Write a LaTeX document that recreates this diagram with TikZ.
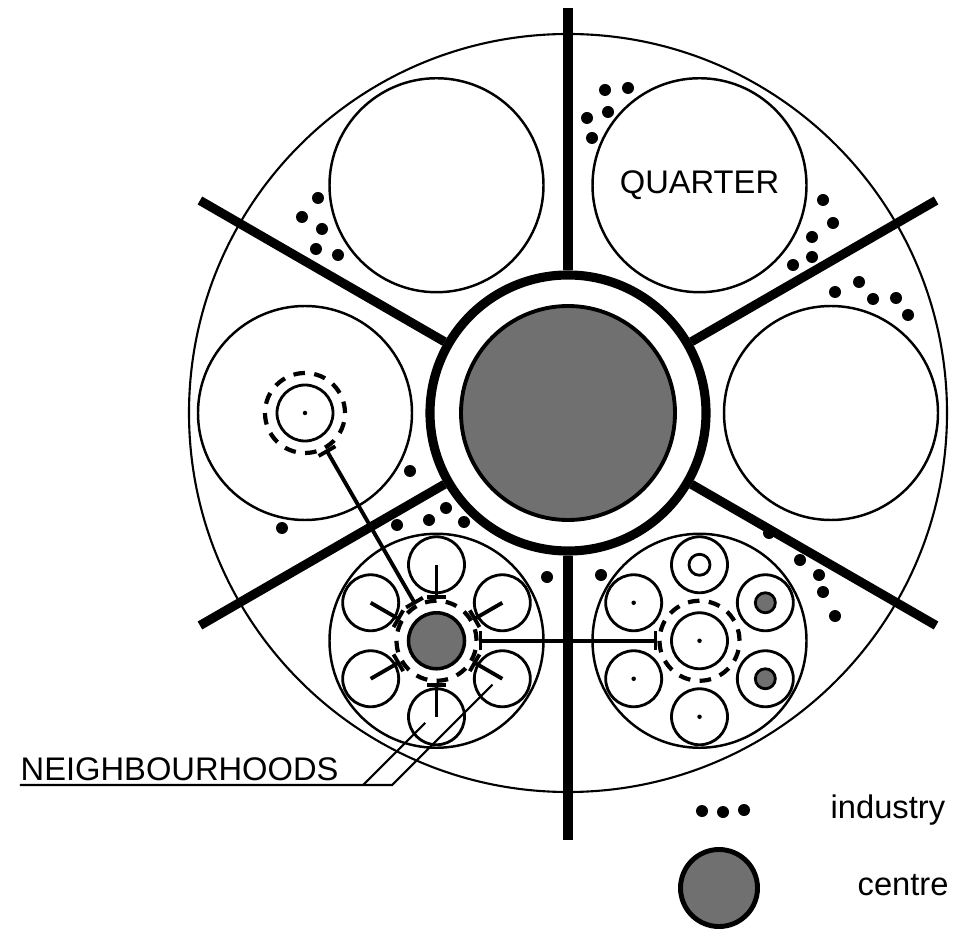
\documentclass[tikz,border=0pt]{standalone}
\usepackage{fontspec}
\setmainfont{Liberation Sans}
\usetikzlibrary{arrows.meta,calc}
\definecolor{centregray}{RGB}{112,112,112}

\begin{document}
\begin{tikzpicture}[
		quarter/.style={circle,draw,line width=0.7pt,minimum size=2.14cm,inner sep=0pt},
		nbh/.style={circle,draw,line width=0.8pt,minimum size=0.56cm,inner sep=0pt},
		hub/.style={circle,draw,line width=1.2pt,dash pattern=on 3.3pt off 2.66pt,minimum size=0.8cm,inner sep=0pt},
		core/.style={circle,draw,fill=centregray,inner sep=0pt},
		road/.style={line width=2.6pt},
		tee/.style={line width=1.1pt,-{Bar[width=5.5pt]}},
		teeboth/.style={line width=1.1pt,{Bar[width=5.5pt]}-{Bar[width=5.5pt]}},
		spot/.style={circle,fill,minimum size=0.12cm,inner sep=0pt},
		pin/.style={circle,fill,minimum size=0.045cm,inner sep=0pt},
		txt/.style={font=\fontsize{9.3pt}{11pt}\selectfont,inner sep=0pt},
		lead/.style={line width=0.6pt}
	]
	\useasboundingbox (-5.68,-5.17) rectangle (3.97,4.13);
	\draw[line width=0.6pt] (0,0) circle (3.79);
	\node[circle,draw,line width=2.6pt,minimum size=2.76cm,inner sep=0pt] (ring) at (0,0) {};
	\foreach \a/\r in {90/4.05,30/4.25,150/4.25,210/4.25,270/4.27,330/4.25}
		\draw[road] (ring.\a) -- (\a:\r);
	\node[core,minimum size=2.14cm,line width=1.1pt] (centre) at (0,0) {};

	\node[quarter] (qE) at (0:2.63) {};
	\node[quarter,txt] (qNE) at (60:2.63) {QUARTER};
	\node[quarter] (qNW) at (120:2.63) {};
	\node[quarter] (qW) at (180:2.63) {};
	\node[quarter] (qSW) at (240:2.63) {};
	\node[quarter] (qSE) at (300:2.63) {};

	\foreach \x/\y in {0.37/3.23,0.60/3.25,0.19/2.95,0.40/3.01,0.24/2.75,
			2.55/2.13,2.65/1.90,2.44/1.76,2.44/1.56,2.25/1.48,
			2.91/1.31,2.67/1.21,3.05/1.14,3.28/1.15,3.40/0.98,
			-2.50/2.15,-2.66/1.96,-2.46/1.84,-2.52/1.64,-2.30/1.58,
			-1.58/-0.58,-2.86/-1.15,-1.22/-0.95,-1.71/-1.12,-1.39/-1.07,-1.04/-1.09,
			-0.21/-1.64,0.33/-1.62,
			2.01/-1.20,2.32/-1.47,2.51/-1.62,2.55/-1.79,2.67/-2.03}
		\fill (\x,\y) circle (0.06);

	% west quarter
	\node[hub] (lhub) at (qW) {};
	\node[nbh] (lmid) at (lhub) {};
	\node[pin] (ldot) at (lhub) {};

	% south-west quarter
	\node[hub] (llhub) at (qSW) {};
	\node[core,minimum size=0.56cm,line width=1pt] (llcore) at (llhub) {};
	\foreach \a [count=\i] in {90,150,210,270,330,30} {
		\node[nbh] (ll\i) at ($(llhub)+(\a:0.76)$) {};
		\draw[tee] (ll\i.center) -- (llhub);
	}

	% south-east quarter
	\node[hub] (lrhub) at (qSE) {};
	\node[nbh] (lrmid) at (lrhub) {};
	\node[pin] (lrdot) at (lrhub) {};
	\foreach \a [count=\i] in {90,150,210,270,330,30}
		\node[nbh] (lr\i) at ($(lrhub)+(\a:0.76)$) {};
	\node[circle,draw,line width=0.8pt,minimum size=0.21cm,inner sep=0pt] (lrring) at (lr1) {};
	\node[pin] (lrdot2) at (lr2) {};
	\node[pin] (lrdot3) at (lr3) {};
	\node[pin] (lrdot4) at (lr4) {};
	\node[core,minimum size=0.2cm,line width=0.8pt] (lrcore5) at (lr5) {};
	\node[core,minimum size=0.2cm,line width=0.8pt] (lrcore6) at (lr6) {};

	\draw[teeboth] (lhub) -- (llhub);
	\draw[teeboth] (llhub) -- (lrhub);

	% label
	\node[txt,anchor=base west] (nbtxt) at (-5.48,-3.67) {NEIGHBOURHOODS};
	\coordinate (u1) at (-2.05,-3.72);
	\coordinate (u2) at (-1.76,-3.72);
	\draw[lead] (nbtxt.south west |- u2) -- (u2) -- ++(45:1.42);
	\draw[lead] (u1) -- ++(45:0.88);

	% legend
	\node[spot] (ind1) at (1.34,-3.98) {};
	\node[spot] (ind2) at (1.55,-3.99) {};
	\node[spot] (ind3) at (1.76,-3.97) {};
	\node[txt,anchor=west] (indtxt) at (2.62,-3.97) {industry};
	\node[core,minimum size=0.77cm,line width=1.4pt] (legcore) at (1.51,-4.75) {};
	\node[txt,anchor=west] (centxt) at (2.89,-4.72) {centre};
\end{tikzpicture}
\end{document}
